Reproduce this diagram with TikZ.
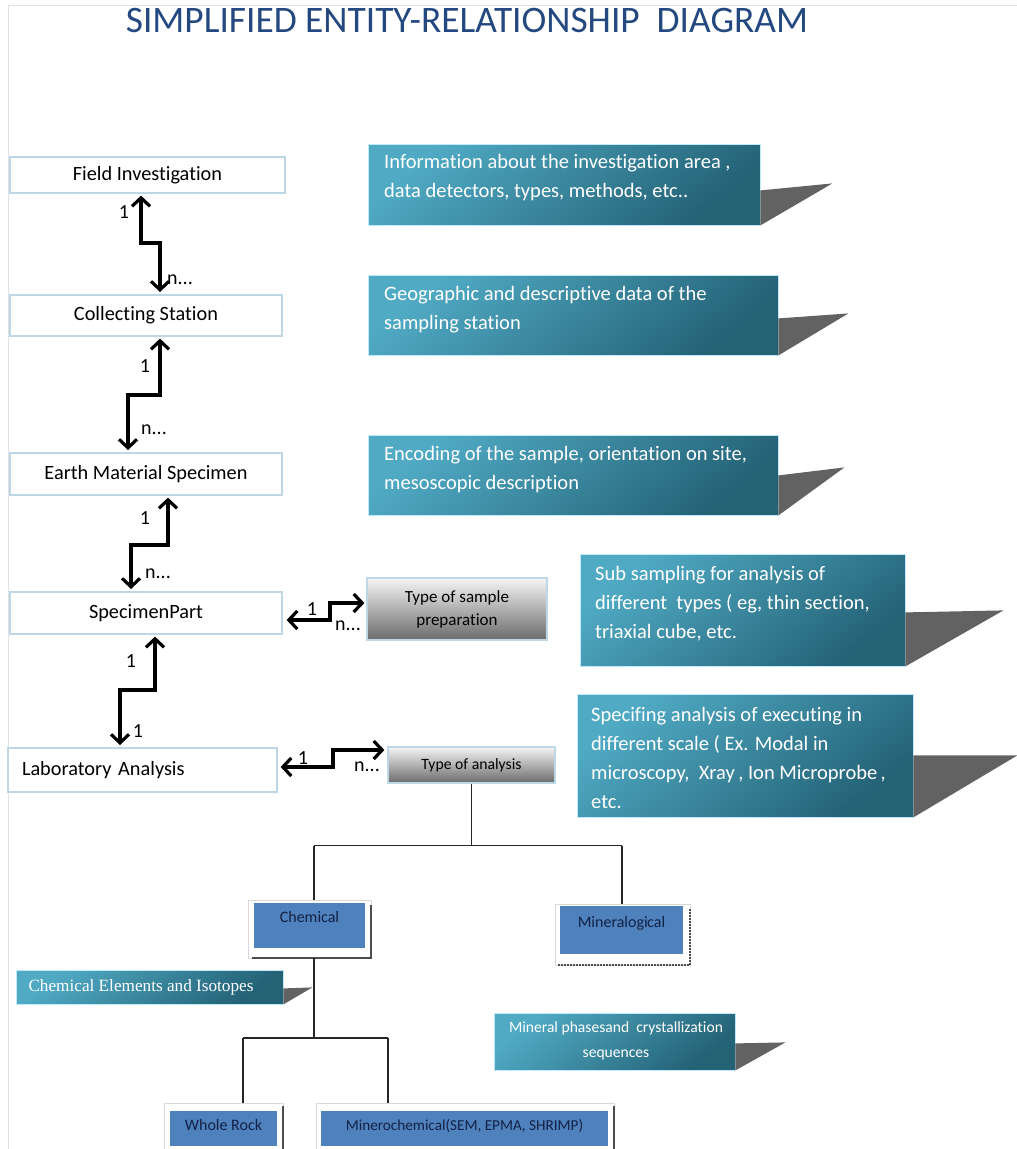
\documentclass[tikz,border=0pt]{standalone}
\usepackage{fontspec}
\usepackage{graphicx}
\setmainfont{Carlito}[Ligatures=NoCommon]
\newfontfamily\serifcal{Liberation Serif}
\usetikzlibrary{arrows.meta,calc}
\definecolor{entb}{RGB}{190,215,230}
\definecolor{tealL}{RGB}{80,170,196}
\definecolor{tealD}{RGB}{36,98,118}
\definecolor{tailg}{RGB}{98,98,98}
\definecolor{bluebox}{RGB}{79,129,189}
\definecolor{navytxt}{RGB}{18,34,70}
\definecolor{titleblue}{RGB}{36,72,128}
\definecolor{frameg}{RGB}{225,225,225}
\tikzset{
  entity/.style={draw=entb, line width=1.2pt, fill=white, inner sep=0pt, font=\fontsize{20.3}{24}\selectfont},
  conn/.style={line width=3.2pt, {Straight Barb[length=8.5pt,width=18pt]}-{Straight Barb[length=8.5pt,width=18pt]}},
  card/.style={font=\fontsize{20}{22}\selectfont, inner sep=0pt},
  gbox/.style={draw=entb, line width=1.2pt, top color=white!96!black, middle color=white!78!black, bottom color=black!58, inner sep=0pt, align=center},
  callout/.style={draw=white!75!cyan, line width=0.8pt, top color=tealL, bottom color=tealD, shading angle=40, inner sep=0pt},
  ctext/.style={text=white, align=left, inner sep=0pt, font=\fontsize{20.5}{29}\selectfont},
  tailshape/.style={fill=tailg},
  bbox/.style={fill=bluebox, inner sep=0pt, text=navytxt, font=\fontsize{16}{18}\selectfont},
  outerframe/.style={draw=black!15, line width=0.8pt, fill=white},
  shadowline/.style={draw=black!70, line width=2.2pt},
  tree/.style={line width=1.6pt, draw=black!85},
  frameline/.style={draw=frameg, line width=1pt}
}
\begin{document}
\begin{tikzpicture}[x=1pt,y=-1pt]
\useasboundingbox (0,0) rectangle (1017,1149);
\fill[white] (0,0) rectangle (1017,1149);
\draw[frameline] (8,5) -- (1017,5);
\draw[frameline] (8,5) -- (8,1149);

% title
\node[anchor=base, inner sep=0pt, text=titleblue, font=\fontsize{37.4}{40}\selectfont] (title) at (467,32) {SIMPLIFIED ENTITY-RELATIONSHIP\ \ DIAGRAM};

% entities
\node[entity, minimum width=275pt, minimum height=36pt] (fi) at (147.5,175) {Field Investigation};
\node[entity, minimum width=272pt, minimum height=41pt] (cs) at (146,315.5) {Collecting Station};
\node[entity, minimum width=272pt, minimum height=42pt] (ems) at (146,474) {Earth\ Material Specimen};
\node[entity, minimum width=272pt, minimum height=42pt] (sp) at (146,613) {SpecimenPart};
\node[entity, text width=241pt, inner xsep=14pt, align=left, minimum height=44pt] (la) at (142.5,770) {Laboratory Analysis};

% gradient boxes
\node[gbox, minimum width=180pt, minimum height=62pt, font=\fontsize{17}{23}\selectfont] (tsp) at (457,609) {Type of sample\\preparation};
\node[gbox, minimum width=167pt, minimum height=36pt, font=\fontsize{15.7}{18}\selectfont] (ta) at (471.5,765) {Type of analysis};

% vertical connectors
\draw[conn] (141,0 |- fi.south) ++(0,2) -- (141,243) -- (160,243) -- (160,292);
\node[card] (l1a) at (124,212) {1};
\node[card] (l1b) at (180,280) {n...};

\draw[conn] (160,0 |- cs.south) ++(0,2) -- (160,395) -- (128,395) -- (128,450);
\node[card] (l2a) at (145,366) {1};
\node[card] (l2b) at (154,430) {n...};

\draw[conn] (168,0 |- ems.south) ++(0,2) -- (168,545) -- (131,545) -- (131,589);
\node[card] (l3a) at (145,518) {1};
\node[card] (l3b) at (158,574) {n...};

\draw[conn] (155,0 |- sp.south) ++(0,2) -- (155,690) -- (120,690) -- (120,745);
\node[card] (l4a) at (131,661) {1};
\node[card] (l4b) at (138,731) {1};

% horizontal connectors
\draw[conn] ($(sp.east)+(4,7)$) -- (330,620) -- (330,603) -- ($(tsp.west |- 0,603)+(-2,0)$);
\node[card] (l5a) at (312,609) {1};
\node[card] (l5b) at (348,626) {n...};

\draw[conn] ($(la.east |- 0,767)+(3,0)$) -- (333,767) -- (333,750) -- ($(ta.west |- 0,750)+(-3,0)$);
\node[card] (l6a) at (303,758) {1};
\node[card] (l6b) at (367,767) {n...};

% callouts
\node[callout, minimum width=392pt, minimum height=81pt] (c1) at (564,184.5) {};
\fill[tailshape] (c1.south east) ++(0,-35) -- ++(72,-7) -- (c1.south east) -- cycle;
\node[ctext, anchor=west] (c1t) at (384,178) {Information\ about the investigation area\ ,\\data detectors, types,\ methods,\ etc..};

\node[callout, minimum width=410pt, minimum height=80pt] (c2) at (573,315) {};
\fill[tailshape] (c2.south east) ++(0,-37) -- ++(70,-5) -- (c2.south east) -- cycle;
\node[ctext, anchor=west] (c2t) at (384,309.5) {Geographic and\ descriptive data of the\\sampling station};

\node[callout, minimum width=410pt, minimum height=80pt] (c3) at (573,475) {};
\fill[tailshape] (c3.south east) ++(0,-40) -- ++(66,-8) -- (c3.south east) -- cycle;
\node[ctext, anchor=west] (c3t) at (384,469.5) {Encoding of the sample, orientation\ on site,\\mesoscopic description};

\node[callout, minimum width=325pt, minimum height=112pt] (c4) at (742.5,610) {};
\fill[tailshape] (c4.south east) ++(0,-54) -- ++(98,-2) -- (c4.south east) -- cycle;
\node[ctext, anchor=west] (c4t) at (595,604) {Sub sampling\ for analysis\ of\\different\ \ types ( eg, thin section,\\triaxial\ cube, etc.};

\node[callout, minimum width=336pt, minimum height=123pt] (c5) at (745,755.5) {};
\fill[tailshape] (c5.south east) ++(0,-62) -- ++(104,0) -- (c5.south east) -- cycle;
\node[ctext, anchor=west] (c5t) at (591,758) {Specifing analysis of executing in\\different scale ( Ex. Modal in\\microscopy,\ \ Xray\,, Ion Microprobe\,,\\etc.};

% tree
\draw[tree] (ta.south) -- ++(0,62) coordinate (hub);
\draw[tree] (314,0 |- hub) -- (622,0 |- hub);
\draw[outerframe] (248,900) rectangle (371,958);
\draw[shadowline] (371,905) -- (371,958) -- (252,958);
\node[bbox, minimum width=111pt, text height=20pt, text depth=25pt] (chem) at (309.5,925) {Chemical};
\draw[outerframe] (555,904) rectangle (690,965);
\draw[shadowline, dash pattern=on 2pt off 1pt] (690,909) -- (690,965) -- (558,965);
\node[bbox, minimum width=123pt, text height=21pt, text depth=27pt] (mine) at (621.5,930) {Mineralogi\kern-0.5pt cal};
\draw[tree] (314,0 |- hub) -- (314,900);
\draw[tree] (622,0 |- hub) -- (622,904);

\node[callout, minimum width=267pt, minimum height=34pt] (c6) at (149.5,987) {};
\fill[tailshape] (c6.south east) ++(0,-16) -- ++(29,-1) -- (c6.south east) -- cycle;
\node[text=white, inner sep=0pt, font=\serifcal\fontsize{17.2}{20}\selectfont] (c6t) at (141,987) {Chemical Elements and Isotopes};

\draw[tree] (314,958) -- (314,1038) coordinate (hub2);
\draw[tree] (243,1038) -- (388,1038);
\draw[outerframe] (164,1103) rectangle (283,1152);
\draw[shadowline] (283,1106) -- (283,1152);
\node[bbox, minimum width=107pt, text height=20pt, text depth=15pt] (wr) at (223.5,1128) {Whole Rock};
\draw[outerframe] (316,1103) rectangle (614,1152);
\draw[shadowline] (614,1106) -- (614,1152);
\node[bbox, minimum width=287pt, text height=20pt, text depth=15pt, font=\fontsize{15.2}{18}\selectfont] (mc) at (464.5,1128) {Minerochemical(SEM, EPMA, SHRIMP)};
\draw[tree] (243,1038) -- (243,1103);
\draw[tree] (388,1038) -- (388,1103);

\node[callout, minimum width=241pt, minimum height=57pt] (c7) at (614.5,1041.5) {};
\fill[tailshape] (c7.south east) ++(0,-27) -- ++(50,-1) -- (c7.south east) -- cycle;
\node[text=white, align=center, inner sep=0pt, font=\fontsize{15.6}{25}\selectfont] (c7t) at (616,1040.5) {Mineral phasesand\ \ crystallization\\sequences};
\end{tikzpicture}
\end{document}
